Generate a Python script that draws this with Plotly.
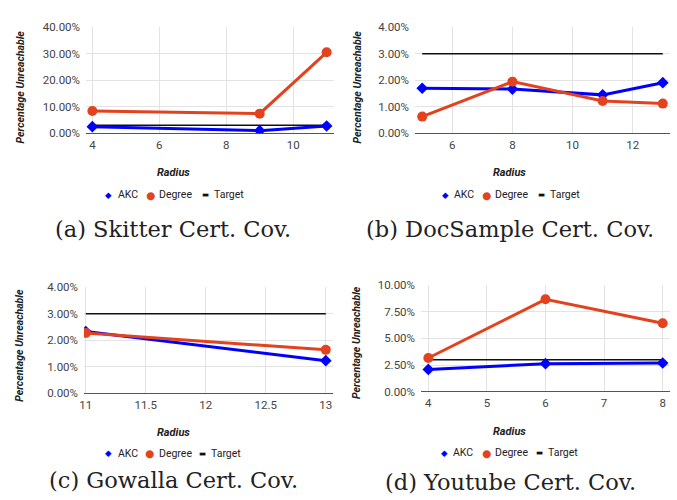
import plotly.graph_objects as go

# ---------------- data ----------------
A_radius = [4, 9, 11]
A_akc = [0.025, 0.010, 0.0275]
A_deg = [0.0843, 0.0742, 0.3057]

B_radius = [5, 8, 11, 13]
B_akc = [0.0170, 0.0167, 0.0145, 0.0191]
B_deg = [0.0063, 0.0195, 0.0122, 0.0112]

C_radius = [11, 13]
C_akc = [0.0233, 0.0123]
C_deg = [0.0228, 0.0164]

D_radius = [4, 6, 8]
D_akc = [0.0209, 0.0263, 0.0269]
D_deg = [0.0316, 0.0866, 0.0641]

TARGET = 0.03

captions = ["(a) Skitter Cert. Cov.", "(b) DocSample Cert. Cov.",
            "(c) Gowalla Cert. Cov.", "(d) Youtube Cert. Cov."]
series_names = ["AKC", "Degree", "Target"]

W, H = 677, 500
BLUE = "#0000ff"
RED = "#e2431e"
TGT = "#111111"

panels = [
    dict(r=A_radius, akc=A_akc, deg=A_deg,
         px=(86, 334), py=(27.3, 133.3), xr=[3.81, 11.22], yr=[0, 0.40],
         xt=[4, 6, 8, 10], ytick=0.10,
         ytitle=(20, 87.5), xtitle=(173, 172.7), leg_y=194.5,
         leg=[(108, 117), (150, 158.3), (205.7, 213.3)], cap=(172.5, 229)),
    dict(r=B_radius, akc=B_akc, deg=B_deg,
         px=(415, 670), py=(27.3, 133.3), xr=[4.76, 13.24], yr=[0, 0.04],
         xt=[6, 8, 10, 12], ytick=0.01,
         ytitle=(357, 87.5), xtitle=(510, 172.7), leg_y=194.5,
         leg=[(445, 453), (486.7, 494.3), (541, 548.7)], cap=(509.5, 229)),
    dict(r=C_radius, akc=C_akc, deg=C_deg,
         px=(84, 333), py=(287.3, 393.3), xr=[10.985, 13.06], yr=[0, 0.04],
         xt=[11, 11.5, 12, 12.5, 13], ytick=0.01,
         ytitle=(20, 345.8), xtitle=(173, 432.7), leg_y=453,
         leg=[(108, 117), (149.7, 158.3), (202, 209.5)], cap=(173, 480)),
    dict(r=D_radius, akc=D_akc, deg=D_deg,
         px=(421, 670), py=(285, 391.7), xr=[3.875, 8.125], yr=[0, 0.10],
         xt=[4, 5, 6, 7, 8], ytick=0.025,
         ytitle=(356, 343), xtitle=(509.7, 431.7), leg_y=452.5,
         leg=[(444.7, 452.3), (486, 493.7), (539.3, 547)], cap=(510.5, 482)),
]

fig = go.Figure()
annotations = []
tick_font = dict(family="Roboto", size=11.5, color="#444444")
title_font = dict(family="Roboto", size=10.5, color="#222222", weight="bold", style="italic")
leg_font = dict(family="Roboto", size=10.5, color="#222222")

for i, p in enumerate(panels):
    n = "" if i == 0 else str(i + 1)
    xa, ya = "x" + n, "y" + n
    r = p["r"]
    fig.add_trace(go.Scatter(x=[r[0], r[-1]], y=[TARGET, TARGET], mode="lines",
                             line=dict(color=TGT, width=1.5), name=series_names[2],
                             showlegend=False, xaxis=xa, yaxis=ya))
    fig.add_trace(go.Scatter(x=r, y=p["akc"], mode="lines+markers",
                             line=dict(color=BLUE, width=3),
                             marker=dict(symbol="diamond", size=9, color=BLUE),
                             name=series_names[0], showlegend=False, xaxis=xa, yaxis=ya))
    fig.add_trace(go.Scatter(x=r, y=p["deg"], mode="lines+markers",
                             line=dict(color=RED, width=3),
                             marker=dict(symbol="circle", size=10, color=RED),
                             name=series_names[1], showlegend=False, xaxis=xa, yaxis=ya))

    x0, x1 = p["px"]
    y0, y1 = p["py"]
    fig.layout["xaxis" + n] = dict(
        domain=[x0 / W, x1 / W], anchor=ya, range=p["xr"], tickvals=p["xt"],
        showgrid=True, gridcolor="#e3e3e3", gridwidth=1, zeroline=False,
        showline=False, ticks="", tickfont=tick_font, ticklabelstandoff=3,
        automargin=False)
    fig.layout["yaxis" + n] = dict(
        domain=[1 - y1 / H, 1 - y0 / H], anchor=xa, range=p["yr"],
        dtick=p["ytick"], tick0=0, tickformat=".2%",
        showgrid=True, gridcolor="#e3e3e3", gridwidth=1,
        zeroline=True, zerolinecolor="#555555", zerolinewidth=1,
        showline=False, ticks="", tickfont=tick_font, ticklabelstandoff=5,
        automargin=False)

    # axis titles
    tx, ty = p["ytitle"]
    annotations.append(dict(text="Percentage Unreachable", x=tx / W, y=1 - ty / H,
                            xref="paper", yref="paper", textangle=-90, showarrow=False,
                            font=title_font, xanchor="center", yanchor="middle"))
    tx, ty = p["xtitle"]
    annotations.append(dict(text="Radius", x=tx / W, y=1 - ty / H,
                            xref="paper", yref="paper", showarrow=False,
                            font=dict(title_font, size=11), xanchor="center", yanchor="middle"))
    # legend
    ly = 1 - p["leg_y"] / H
    syms = [("◆", BLUE, 8.5), ("●", RED, 10.5), ("▬", TGT, 7.5)]
    for (sx, txx), (g, c, s), nm in zip(p["leg"], syms, series_names):
        annotations.append(dict(text=g, x=sx / W, y=ly, xref="paper", yref="paper",
                                showarrow=False, xanchor="center", yanchor="middle",
                                font=dict(family="DejaVu Sans", size=s, color=c)))
        annotations.append(dict(text=nm, x=txx / W, y=ly, xref="paper", yref="paper",
                                showarrow=False, xanchor="left", yanchor="middle",
                                font=leg_font, xshift=-1))
    # caption
    cx, cy = p["cap"]
    annotations.append(dict(text=captions[i], x=cx / W, y=1 - cy / H, xref="paper",
                            yref="paper", showarrow=False, xanchor="center", yanchor="middle",
                            font=dict(family="DejaVu Serif", size=22.5, color="#222222")))

fig.update_layout(width=W, height=H, margin=dict(l=0, r=0, t=0, b=0, autoexpand=False),
                  paper_bgcolor="white", plot_bgcolor="white",
                  showlegend=False, annotations=annotations)

fig.write_html("out.html", config={"displayModeBar": False, "staticPlot": True},
               post_script="document.body.style.margin='0';document.body.style.overflow='hidden';")
